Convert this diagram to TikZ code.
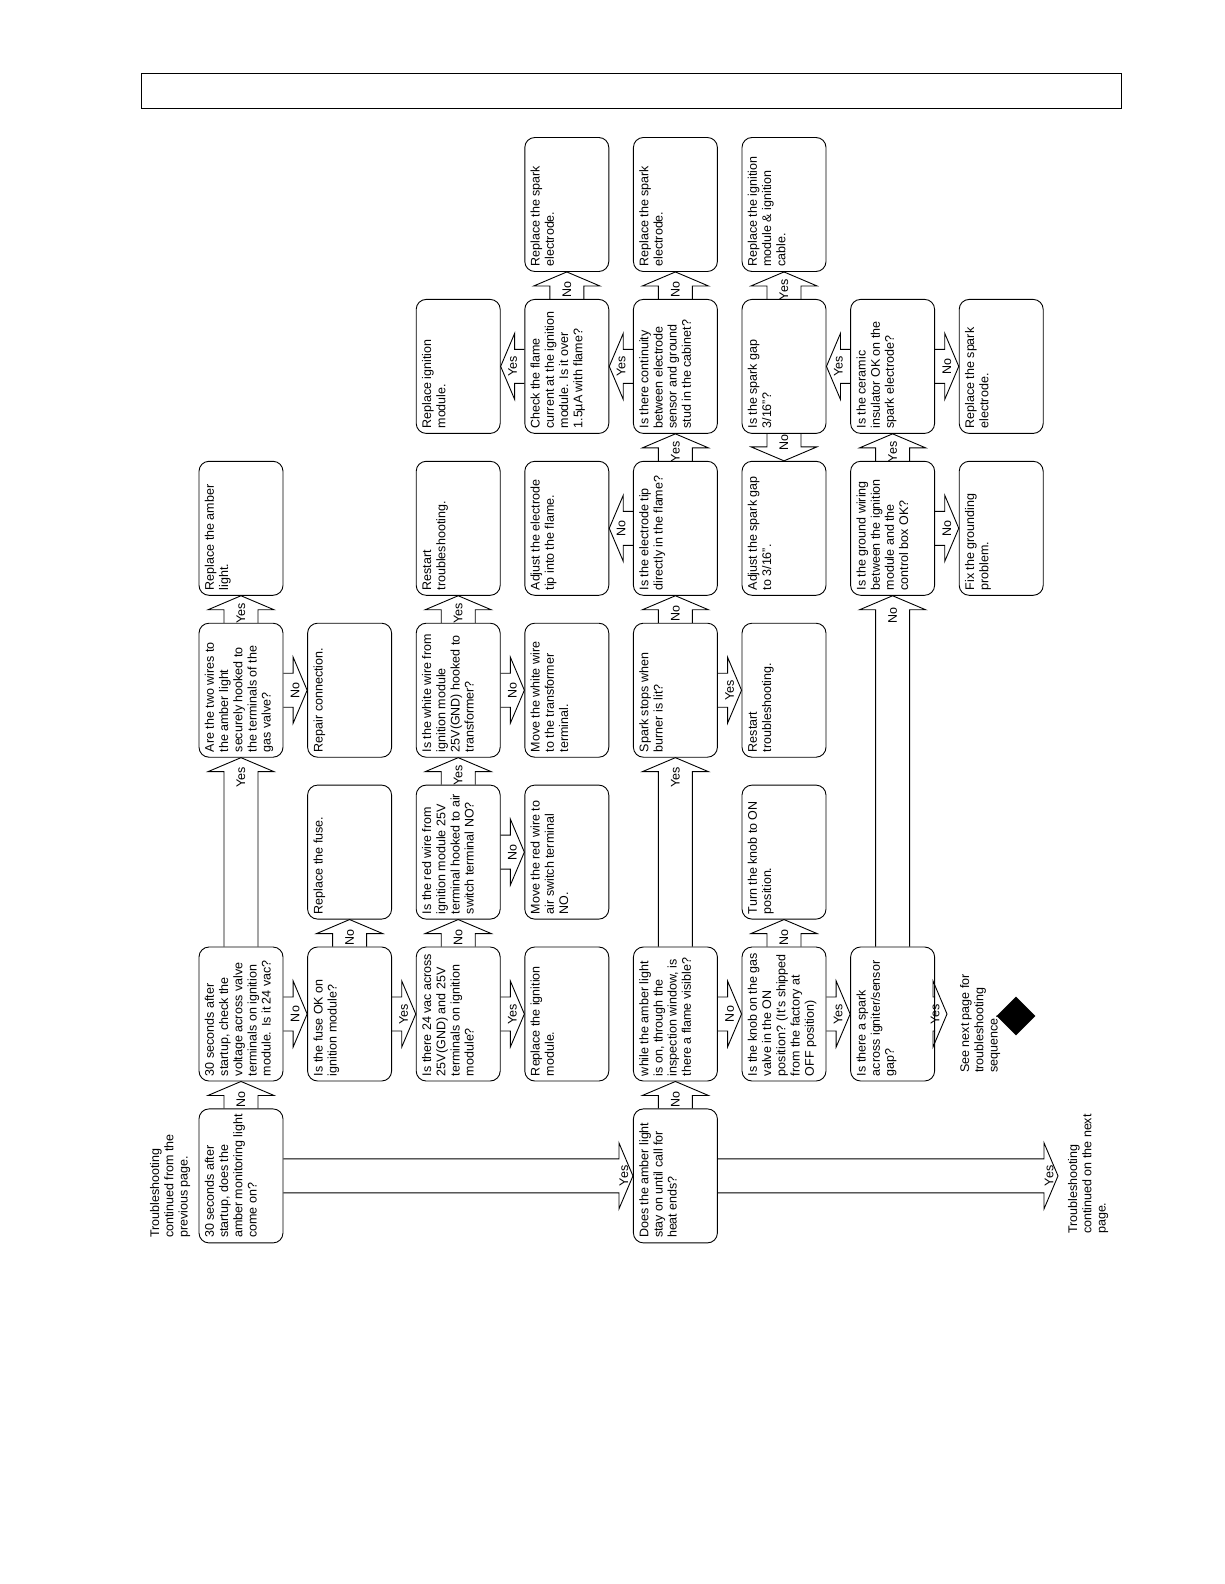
\documentclass[tikz,border=0pt]{standalone}
\usepackage{fontspec}
\setmainfont{Liberation Sans}
\usepackage{graphicx}
\usepackage{tikz}
\usetikzlibrary{positioning,calc,shapes.geometric}

\newcommand{\qtext}[1]{\rotatebox{90}{\parbox[c][74pt][t]{124pt}{\noindent\begin{tabular}[t]{@{}l@{}}#1\end{tabular}}}}
\newcommand{\vtext}[1]{\rotatebox{90}{\begin{tabular}{@{}l@{}}#1\end{tabular}}}
\newcommand{\flowarrow}[4][12pt]{%
  \coordinate (fs) at (#2);
  \coordinate (fe) at (#3);
  \coordinate (fb) at ($(fe)!14pt!(fs)$);
  \draw[arr] ($(fs)!17pt!90:(fe)$) -- ($(fb)!17pt!90:(fe)$) -- ($(fb)!33pt!90:(fe)$) -- (fe)
    -- ($(fb)!33pt!-90:(fe)$) -- ($(fb)!17pt!-90:(fe)$) -- ($(fs)!17pt!-90:(fe)$);
  \node[lb] at ($(fe)!#1!(fs)$) {#4};
}

\begin{document}
\begin{tikzpicture}[x=1pt,y=-1pt,node distance=27pt and 23.7pt,font=\fontsize{12.5pt}{14.2pt}\selectfont]
    \tikzstyle{bx}=[draw,line width=0.9pt,rounded corners=10pt,minimum width=84pt,minimum height=134pt,inner sep=0pt]
    \tikzstyle{tx}=[inner sep=0pt]
    \tikzstyle{lb}=[rotate=90,inner sep=0pt]
    \tikzstyle{arr}=[line width=0.9pt,line join=miter]
    \useasboundingbox (0,0) rectangle (1224,1584);
    \node[draw,line width=1.2pt,minimum width=980pt,minimum height=35pt,anchor=north west,inner sep=0pt] (hdr) at (141,73) {};

    \node[bx] (voltq) at (241,1014) {\qtext{30 seconds after\\startup, check the\\voltage across valve\\terminals on ignition\\module. Is it 24 vac?}};
    \node[bx,below=of voltq] (startq) {\qtext{30 seconds after\\startup, does the\\amber monitoring light\\come on?}};
    \node[bx,right=of voltq] (fuseq) {\qtext{Is the fuse OK on\\ignition module?}};
    \node[bx,right=of fuseq] (vacq) {\qtext{Is there 24 vac across\\25V(GND) and 25V\\terminals on ignition\\module?}};
    \node[bx,right=of vacq] (replmod1) {\qtext{Replace the ignition\\module.}};
    \node[bx,right=of replmod1] (visibleq) {\qtext{while the amber light\\is on, through the\\inspection window, is\\there a flame visible?}};
    \node[bx,right=of visibleq] (knobq) {\qtext{Is the knob on the gas\\valve in the ON\\position? (It's shipped\\from the factory at\\OFF position)}};
    \node[bx,right=of knobq] (sparkq) {\qtext{Is there a spark\\across igniter/sensor\\gap?}};
    \node[bx,below=of visibleq] (stayq) {\qtext{Does the amber light\\stay on until call for\\heat ends?}};

    \node[bx,above=of fuseq] (replfuse) {\qtext{Replace the fuse.}};
    \node[bx,above=of vacq] (redq) {\qtext{Is the red wire from\\ignition module 25V\\terminal hooked to air\\switch terminal NO?}};
    \node[bx,above=of replmod1] (movered) {\qtext{Move the red wire to\\air switch terminal\\NO.}};
    \node[bx,above=of knobq] (turnknob) {\qtext{Turn the knob to ON\\position.}};

    \node[bx,above=of replfuse] (repair) {\qtext{Repair connection.}};
    \node[bx,left=of repair] (wireq) {\qtext{Are the two wires to\\the amber light\\securely hooked to\\the terminals of the\\gas valve?}};
    \node[bx,above=of redq] (whiteq) {\qtext{Is the white wire from\\ignition module\\25V(GND) hooked to\\transformer?}};
    \node[bx,above=of movered] (movewhite) {\qtext{Move the white wire\\to the transformer\\terminal.}};
    \node[bx,right=of movewhite] (sparkstopq) {\qtext{Spark stops when\\burner is lit?}};
    \node[bx,above=of turnknob] (restart2) {\qtext{Restart\\troubleshooting.}};

    \node[bx,above=of wireq] (replamber) {\qtext{Replace the amber\\light.}};
    \node[bx,above=of whiteq] (restart1) {\qtext{Restart\\troubleshooting.}};
    \node[bx,above=of movewhite] (adjtip) {\qtext{Adjust the electrode\\tip into the flame.}};
    \node[bx,above=of sparkstopq] (tipq) {\qtext{Is the electrode tip\\directly in the flame?}};
    \node[bx,above=of restart2] (adjgap) {\qtext{Adjust the spark gap\\to 3/16”.}};
    \node[bx,right=of adjgap] (groundq) {\qtext{Is the ground wiring\\between the ignition\\module and the\\control box OK?}};
    \node[bx,right=of groundq] (fixground) {\qtext{Fix the grounding\\problem.}};

    \node[bx,above=of restart1] (replmod2) {\qtext{Replace ignition\\module.}};
    \node[bx,above=of adjtip] (flameq) {\qtext{Check the flame\\current at the ignition\\module. Is it over\\1.5µA with flame?}};
    \node[bx,above=of tipq] (contq) {\qtext{Is there continuity\\between electrode\\sensor and ground\\stud in the cabinet?}};
    \node[bx,above=of adjgap] (gapq) {\qtext{Is the spark gap\\3/16”?}};
    \node[bx,above=of groundq] (ceramicq) {\qtext{Is the ceramic\\insulator OK on the\\spark electrode?}};
    \node[bx,above=of fixground] (replelec3) {\qtext{Replace the spark\\electrode.}};

    \node[bx,above=of flameq] (replelec1) {\qtext{Replace the spark\\electrode.}};
    \node[bx,above=of contq] (replelec2) {\qtext{Replace the spark\\electrode.}};
    \node[bx,above=of gapq] (replcable) {\qtext{Replace the ignition\\module \& ignition\\cable.}};

    \node[tx,anchor=south west] (prevpage) at (149,1238) {\vtext{Troubleshooting\\continued from the\\previous page.}};
    \node[tx,anchor=south west] (nextpage) at (1067,1234) {\vtext{Troubleshooting\\continued on the next\\page.}};
    \node[tx,anchor=south west] (seenext) at (959,1073) {\vtext{See next page for\\troubleshooting\\sequence.}};
    \node[diamond,fill=black,minimum width=39pt,minimum height=39pt,inner sep=0pt] (mark) at (1016,1016) {};
    \coordinate (nextend) at ($(stayq.east -| nextpage.west)+(-9pt,0)$);
    \coordinate (seetip) at ($(sparkq.east -| seenext.west)+(-12pt,0)$);

    \flowarrow[18pt]{startq.north}{voltq.south}{No}
    \flowarrow[9pt]{startq.east}{stayq.west}{Yes}
    \flowarrow[9pt]{stayq.east}{nextend}{Yes}
    \flowarrow[18pt]{stayq.north}{visibleq.south}{No}
    \flowarrow{voltq.east}{fuseq.west}{No}
    \flowarrow[20pt]{voltq.north}{wireq.south}{Yes}
    \flowarrow[18pt]{wireq.north}{replamber.south}{Yes}
    \flowarrow{wireq.east}{repair.west}{No}
    \flowarrow[18pt]{fuseq.north}{replfuse.south}{No}
    \flowarrow{fuseq.east}{vacq.west}{Yes}
    \flowarrow[18pt]{vacq.north}{redq.south}{No}
    \flowarrow{vacq.east}{replmod1.west}{Yes}
    \flowarrow[18pt]{redq.north}{whiteq.south}{Yes}
    \flowarrow{redq.east}{movered.west}{No}
    \flowarrow[18pt]{whiteq.north}{restart1.south}{Yes}
    \flowarrow{whiteq.east}{movewhite.west}{No}
    \flowarrow[20pt]{visibleq.north}{sparkstopq.south}{Yes}
    \flowarrow{visibleq.east}{knobq.west}{No}
    \flowarrow[18pt]{sparkstopq.north}{tipq.south}{No}
    \flowarrow{sparkstopq.east}{restart2.west}{Yes}
    \flowarrow{tipq.west}{adjtip.east}{No}
    \flowarrow[18pt]{tipq.north}{contq.south}{Yes}
    \flowarrow{contq.west}{flameq.east}{Yes}
    \flowarrow[18pt]{contq.north}{replelec2.south}{No}
    \flowarrow{flameq.west}{replmod2.east}{Yes}
    \flowarrow[18pt]{flameq.north}{replelec1.south}{No}
    \flowarrow[18pt]{knobq.north}{turnknob.south}{No}
    \flowarrow{knobq.east}{sparkq.west}{Yes}
    \flowarrow[20pt]{sparkq.north}{groundq.south}{No}
    \flowarrow{sparkq.east}{seetip}{Yes}
    \flowarrow[18pt]{groundq.north}{ceramicq.south}{Yes}
    \flowarrow{groundq.east}{fixground.west}{No}
    \flowarrow{ceramicq.west}{gapq.east}{Yes}
    \flowarrow{ceramicq.east}{replelec3.west}{No}
    \flowarrow[18pt]{gapq.south}{adjgap.north}{No}
    \flowarrow[18pt]{gapq.north}{replcable.south}{Yes}
\end{tikzpicture}
\end{document}
